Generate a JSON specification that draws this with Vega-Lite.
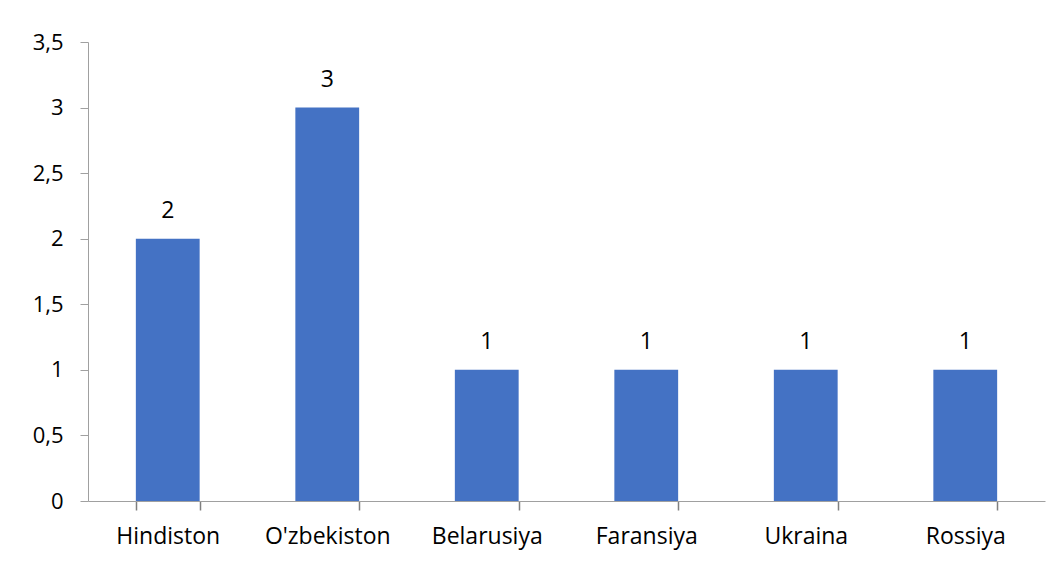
{
  "$schema": "https://vega.github.io/schema/vega-lite/v6.json",
  "width": 957,
  "height": 459,
  "autosize": {"type": "none"},
  "padding": {"left": 88, "top": 42, "right": 12, "bottom": 60},
  "background": "white",
  "config": {"view": {"stroke": null}, "font": "Open Sans"},
  "data": {"values": [
    {"country": "Hindiston", "value": 2},
    {"country": "O'zbekiston", "value": 3},
    {"country": "Belarusiya", "value": 1},
    {"country": "Faransiya", "value": 1},
    {"country": "Ukraina", "value": 1},
    {"country": "Rossiya", "value": 1}
  ]},
  "encoding": {
    "x": {"field": "country", "type": "nominal", "sort": null,
      "scale": {"paddingInner": 0.6, "paddingOuter": 0.3},
      "axis": {"title": null, "labelAngle": 0, "labelFontSize": 23, "labelColor": "#000000", "labelFont": "Open Sans",
        "domainColor": "#a0a0a0", "ticks": true, "tickColor": "#7f7f7f", "tickSize": 9, "tickWidth": 1.5, "tickBand": "extent", "tickOpacity": 1, "labelPadding": 15, "grid": false}},
    "y": {"field": "value", "type": "quantitative",
      "scale": {"domain": [0, 3.5], "nice": false},
      "axis": {"title": null, "values": [0, 0.5, 1, 1.5, 2, 2.5, 3, 3.5], "labelExpr": "replace(format(datum.value, '~g'), '.', ',')",
        "labelFontSize": 22, "labelColor": "#000000", "labelFont": "Open Sans", "domainColor": "#a0a0a0", "tickColor": "#a0a0a0",
        "tickSize": 8, "labelPadding": 17, "grid": false}}
  },
  "layer": [
    {"mark": {"type": "bar", "color": "#4472C4"}},
    {"mark": {"type": "text", "fontSize": 23, "color": "#000000", "baseline": "alphabetic", "dy": -21, "font": "Open Sans"},
      "encoding": {"text": {"field": "value", "type": "quantitative"}}}
  ]
}
